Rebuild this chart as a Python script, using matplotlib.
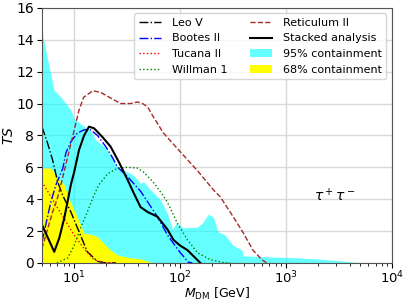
import numpy as np
import matplotlib
matplotlib.use("Agg")
import matplotlib.pyplot as plt

# TS vs dark matter mass (GeV), tau+tau- channel
leo_m = [5.0, 5.66, 6.31, 7.03, 7.83, 9.37, 11.2, 13.4, 16.7, 20.0, 25.0]
leo_ts = [8.55, 7.5, 6.45, 5.1, 4.25, 3.2, 1.95, 0.7, 0.1, 0.0, 0.0]

bootes_m = [5.0, 6.08, 6.78, 7.88, 8.41, 9.37, 10.8, 12.5, 14.4, 16.7, 20.0, 23.2,
            25.9, 32.2, 42.6, 61.4, 76.4, 96.7, 120, 131]
bootes_ts = [1.3, 3.85, 4.9, 5.95, 6.9, 7.6, 8.15, 8.35, 8.35, 8.0, 7.3, 6.6,
             6.0, 5.4, 4.5, 2.9, 1.75, 0.8, 0.05, 0.0]

tucana_m = [5.0, 6.53, 8.41, 10.07, 12.5, 15.5, 19.1, 25.0]
tucana_ts = [5.1, 3.8, 2.6, 1.75, 0.9, 0.2, 0.0, 0.0]

willman_m = [6.92, 8.73, 10.07, 11.6, 13.4, 15.5, 17.2, 20.9, 25.9, 32.2, 39.9,
             45.4, 56.4, 70.0, 76.4, 94.6, 118, 146, 193, 256, 298]
willman_ts = [0.0, 0.3, 1.1, 2.2, 3.2, 4.25, 4.9, 5.6, 5.95, 6.0, 5.95,
              5.7, 5.05, 4.2, 3.8, 2.5, 1.45, 0.65, 0.2, 0.03, 0.0]

ret_m = [5.0, 6.31, 7.03, 7.55, 8.6, 9.72, 11.2, 12.4, 15.1, 17.9, 22.2, 27.6,
         34.3, 39.9, 44.5, 49.5, 56.4, 70.0, 100, 146, 206, 240, 318, 395, 489,
         594, 661]
ret_ts = [0.9, 3.2, 4.1, 4.9, 6.45, 7.9, 9.6, 10.4, 10.8, 10.7, 10.35, 10.0,
          10.0, 10.1, 10.0, 9.8, 9.15, 8.15, 7.0, 5.8, 4.6, 4.15, 2.9, 1.9, 0.8,
          0.2, 0.0]

stack_m = [5.0, 6.53, 7.28, 8.11, 8.73, 9.37, 10.07, 11.2, 12.5, 13.9, 15.5, 18.6,
           22.2, 26.5, 32.2, 36.6, 42.6, 49.5, 61.4, 76.4, 86.9, 100, 118, 131, 156]
stack_ts = [2.4, 0.7, 1.55, 2.8, 3.85, 4.9, 5.7, 7.1, 8.0, 8.55, 8.45, 7.9,
            7.3, 6.35, 5.2, 4.4, 3.5, 3.2, 2.9, 2.1, 1.45, 1.1, 0.8, 0.5, 0.0]

c95_m = [5.0, 6.49, 7.55, 9.37, 10.0, 12.0, 14.4, 16.1, 20.0, 25.9, 32.2, 36.6,
         42.6, 45.4, 52.8, 65.6, 76.4, 85.1, 92.6, 107, 146, 163, 185, 206, 230,
         267, 318, 386, 395, 661, 1019, 1950, 3990, 4980, 10000]
c95_ts = [14.5, 10.85, 10.4, 9.6, 9.1, 8.65, 8.3, 7.7, 7.25, 6.0, 5.7, 5.5,
          5.0, 5.1, 4.6, 3.95, 3.1, 2.1, 2.5, 2.2, 2.25, 2.5, 3.05, 2.9, 1.95,
          1.75, 1.1, 0.8, 0.45, 0.38, 0.35, 0.25, 0.08, 0.0, 0.0]

c68_m = [5.0, 6.08, 6.78, 7.55, 8.11, 8.96, 10.07, 11.2, 12.5, 14.4, 16.7, 20.0,
         22.2, 25.9, 32.2, 42.6, 52.8, 58.9]
c68_ts = [5.95, 5.95, 5.5, 5.1, 4.9, 4.05, 3.3, 2.6, 1.85, 1.8, 1.65, 1.1,
          0.8, 0.5, 0.35, 0.25, 0.05, 0.0]

plt.rcParams['font.family'] = 'DejaVu Sans'
fig, ax = plt.subplots(figsize=(4.07, 3.05), dpi=100)
fig.subplots_adjust(left=0.103, right=0.963, bottom=0.138, top=0.974)

ax.fill_between(c95_m, 0, c95_ts, color='cyan', alpha=0.6, lw=0, label='95% containment')
ax.fill_between(c68_m, 0, c68_ts, color='yellow', lw=0, label='68% containment')

ax.plot(leo_m, leo_ts, 'k-.', lw=1, label='Leo V')
ax.plot(bootes_m, bootes_ts, 'b-.', lw=1, label='Bootes II')
ax.plot(tucana_m, tucana_ts, 'r:', lw=1, label='Tucana II')
ax.plot(willman_m, willman_ts, 'g:', lw=1, label='Willman 1')
ax.plot(ret_m, ret_ts, '--', color='brown', lw=1, label='Reticulum II')
ax.plot(stack_m, stack_ts, 'k-', lw=1.5, label='Stacked analysis')

ax.set_xscale('log')
ax.set_xlim(5, 1e4)
ax.set_ylim(0, 16)
ax.set_yticks(range(0, 17, 2))
ax.grid(True, color='#d9d9d9', lw=1)
ax.set_axisbelow(True)
for s in ax.spines.values():
    s.set_color('#555555')
ax.tick_params(axis='y', labelsize=10, pad=2)
ax.tick_params(axis='x', labelsize=9.5, pad=1.5)
ax.set_xlabel(r'$M_{\rm DM}$ [GeV]', fontsize=9)
ax.set_ylabel(r'$TS$', fontsize=10)
ax.xaxis.set_label_coords(0.5, -0.09)
ax.yaxis.set_label_coords(-0.075, 0.5)
ax.text(2900, 4.25, r'$\tau^+\tau^-$', fontsize=10, ha='center', va='center')

h, l = ax.get_legend_handles_labels()
order = [2, 3, 4, 5, 6, 7, 0, 1]
ax.legend([h[i] for i in order], [l[i] for i in order], ncol=2, fontsize=8,
          loc='upper right', columnspacing=2.0, handlelength=2.0,
          handletextpad=1.0)

fig.savefig('out.png', dpi=100)
